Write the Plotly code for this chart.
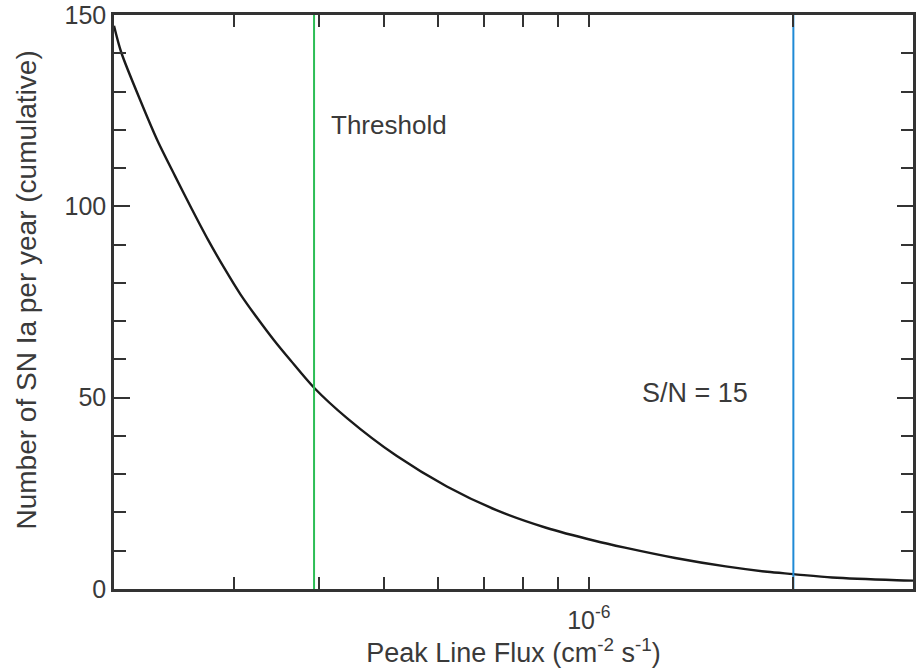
import math
import plotly.graph_objects as go

# Cumulative SN Ia rate vs peak line flux
flux = [2.0e-7, 2.05e-7, 2.19e-7, 2.32e-7, 2.46e-7, 2.60e-7, 2.75e-7, 2.91e-7,
        3.07e-7, 3.25e-7, 3.44e-7, 3.64e-7, 3.94e-7, 4.41e-7, 5.21e-7, 6.18e-7,
        7.31e-7, 8.65e-7, 1.02e-6, 1.13e-6, 1.34e-6, 1.59e-6, 1.83e-6, 2.0e-6,
        2.28e-6, 2.84e-6, 3.0e-6]
n_sn = [147.2, 140.2, 127.4, 117.0, 107.9, 99.5, 91.3, 83.7,
        77.0, 70.8, 65.0, 59.7, 52.6, 44.6, 34.8, 26.8,
        20.6, 16.0, 12.6, 10.8, 8.1, 5.9, 4.5, 3.9,
        3.0, 2.3, 2.2]

threshold_flux = 3.94e-7
sn15_flux = 2.0e-6

x_tickvals = [2e-7, 3e-7, 4e-7, 5e-7, 6e-7, 7e-7, 8e-7, 9e-7, 1e-6, 2e-6, 3e-6]
x_ticktext = ["", "", "", "", "", "", "", "", "10<sup>-6</sup>", "", ""]
y_tickvals = [0, 50, 100, 150]

x_range = [2.0e-7, 3.0e-6]
y_range = [0, 150]

FONT = "Liberation Sans, Arial, sans-serif"
TXT = "#3a3a3a"
AX = "#333333"

fig = go.Figure()

fig.add_trace(go.Scatter(x=flux, y=n_sn, mode="lines",
                         line=dict(color="#1a1a1a", width=2.4, shape="spline", smoothing=0.8),
                         showlegend=False, hoverinfo="skip"))

fig.add_trace(go.Scatter(x=[threshold_flux, threshold_flux], y=y_range, mode="lines",
                         line=dict(color="#2dbd55", width=2), showlegend=False,
                         cliponaxis=False))
fig.add_trace(go.Scatter(x=[sn15_flux, sn15_flux], y=y_range, mode="lines",
                         line=dict(color="#1f8ad6", width=2), showlegend=False,
                         cliponaxis=False))

fig.add_annotation(x=math.log10(threshold_flux), y=121.3, xref="x", yref="y",
                   text="Threshold", showarrow=False, xanchor="left", xshift=15,
                   font=dict(family=FONT, size=26, color=TXT))
fig.add_annotation(x=math.log10(sn15_flux), y=51.2, xref="x", yref="y",
                   text="S/N = 15", showarrow=False, xanchor="right", xshift=-43,
                   font=dict(family=FONT, size=27, color=TXT))

# y-axis title placed as a rotated annotation to match the reference position
fig.add_annotation(x=0, y=0.52, xref="paper", yref="paper",
                   text="Number of SN Ia per year (cumulative)", textangle=-90,
                   showarrow=False, xanchor="center", yanchor="middle", xshift=-87,
                   font=dict(family=FONT, size=28, color=TXT))

fig.update_layout(
    width=917, height=669,
    margin=dict(l=114, r=1, t=14, b=80),
    paper_bgcolor="white", plot_bgcolor="white",
    font=dict(family=FONT, size=24, color=TXT),
    xaxis=dict(type="log", range=[math.log10(x_range[0]), math.log10(x_range[1])],
               tickmode="array", tickvals=x_tickvals, ticktext=x_ticktext,
               ticks="inside", ticklen=12, tickwidth=2, tickcolor=AX,
               showline=True, linewidth=2.5, linecolor=AX, mirror="allticks",
               showgrid=False, zeroline=False, ticklabelstandoff=7,
               ticklabeloverflow="allow",
               tickfont=dict(family=FONT, size=25, color=TXT),
               title=dict(text="Peak Line Flux (cm<sup>-2</sup> s<sup>-1</sup>)",
                          font=dict(family=FONT, size=27, color=TXT), standoff=4)),
    yaxis=dict(range=y_range, tickmode="array", tickvals=y_tickvals,
               ticks="inside", ticklen=16, tickwidth=2, tickcolor=AX,
               minor=dict(dtick=10, tick0=0, ticks="inside", ticklen=12,
                          tickwidth=2, tickcolor=AX, showgrid=False),
               showline=True, linewidth=2.5, linecolor=AX, mirror="allticks",
               showgrid=False, zeroline=False, ticklabeloverflow="allow",
               tickfont=dict(family=FONT, size=25, color=TXT)),
)

fig.write_html("out.html")
